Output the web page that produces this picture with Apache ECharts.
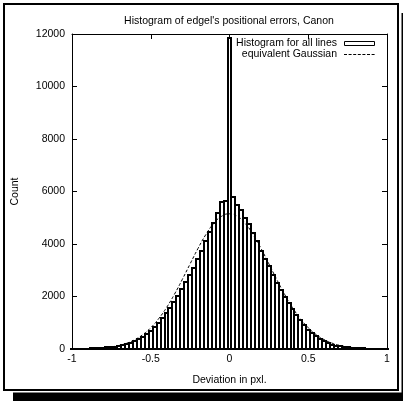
<!DOCTYPE html>
<html>
<head>
<meta charset="utf-8">
<script src="https://cdn.jsdelivr.net/npm/echarts@6/dist/echarts.min.js"></script>
<style>
  html, body { margin: 0; padding: 0; background: #fff; }
  #chart { width: 403px; height: 401px; }
</style>
</head>
<body>
<div id="chart"></div>
<script>
// Histogram bins (width 0.025 px), centres from -1 to 1
var binWidth = 0.025;
var binCenters = [
  -1.000, -0.975, -0.950, -0.925, -0.900, -0.875, -0.850, -0.825, -0.800, -0.775,
  -0.750, -0.725, -0.700, -0.675, -0.650, -0.625, -0.600, -0.575, -0.550, -0.525,
  -0.500, -0.475, -0.450, -0.425, -0.400, -0.375, -0.350, -0.325, -0.300, -0.275,
  -0.250, -0.225, -0.200, -0.175, -0.150, -0.125, -0.100, -0.075, -0.050, -0.025,
   0.000,
   0.025,  0.050,  0.075,  0.100,  0.125,  0.150,  0.175,  0.200,  0.225,  0.250,
   0.275,  0.300,  0.325,  0.350,  0.375,  0.400,  0.425,  0.450,  0.475,  0.500,
   0.525,  0.550,  0.575,  0.600,  0.625,  0.650,  0.675,  0.700,  0.725,  0.750,
   0.775,  0.800,  0.825,  0.850,  0.875,  0.900,  0.925,  0.950,  0.975,  1.000
];
var binCounts = [
     8,   10,   12,   15,   18,   22,   28,   35,   45,   58,
    72,   90,  115,  145,  185,  240,  300,  380,  470,  580,
   700,  840, 1000, 1170, 1360, 1570, 1790, 2030, 2280, 2550,
  2820, 3100, 3420, 3750, 4100, 4450, 4800, 5200, 5600, 5650,
  11850,
  5800, 5500, 5300, 5000, 4750, 4420, 4100, 3750, 3430, 3150,
  2830, 2520, 2260, 2000, 1750, 1520, 1300, 1110,  920,  740,
   600,  480,  375,  295,  225,  170,  130,  100,   78,   60,
    47,   37,   29,   23,   18,   14,   11,    9,    7,    5
];

// Equivalent Gaussian, sampled every 0.05 px
var gaussX = [
  -1.00, -0.95, -0.90, -0.85, -0.80, -0.75, -0.70, -0.65, -0.60, -0.55,
  -0.50, -0.45, -0.40, -0.35, -0.30, -0.25, -0.20, -0.15, -0.10, -0.05,
   0.00,
   0.05,  0.10,  0.15,  0.20,  0.25,  0.30,  0.35,  0.40,  0.45,  0.50,
   0.55,  0.60,  0.65,  0.70,  0.75,  0.80,  0.85,  0.90,  0.95,  1.00
];
var gaussY = [
     3,    6,   13,   25,   45,   80,  137,  226,  359,  550,
   811, 1152, 1577, 2081, 2647, 3243, 3831, 4360, 4783, 5056,
  5150,
  5056, 4783, 4360, 3831, 3243, 2647, 2081, 1577, 1152,  811,
   550,  359,  226,  137,   80,   45,   25,   13,    6,    3
];

var legendNames = ['Histogram for all lines', 'equivalent Gaussian'];

var FONT = '"Liberation Sans", Arial, Helvetica, sans-serif';
var FS = 10.5;

var histData = binCenters.map(function (c, i) { return [c, binCounts[i]]; });
var gaussData = gaussX.map(function (x, i) { return [x, gaussY[i]]; });

function axisLine() { return { show: true, onZero: false, lineStyle: { color: '#000', width: 1 } }; }
function axisTick() { return { show: true, inside: true, length: 5, lineStyle: { color: '#000', width: 1 } }; }

var chart = echarts.init(document.getElementById('chart'), null, { renderer: 'canvas' });

chart.setOption({
  animation: false,
  backgroundColor: '#fff',
  graphic: [
    // drop shadow behind the page frame
    { type: 'rect', z: -10, silent: true,
      shape: { x: 13, y: 13, width: 390, height: 388 },
      style: { fill: '#000' } },
    { type: 'rect', z: -9, silent: true,
      shape: { x: 0, y: 0, width: 401.5, height: 392.5 },
      style: { fill: '#fff' } },
    // page frame
    { type: 'rect', z: -8, silent: true,
      shape: { x: 4, y: 4, width: 394, height: 386 },
      style: { fill: '#fff', stroke: '#000', lineWidth: 2 } },
    // key, upper right of the plot
    { type: 'text', z: 10, silent: true, x: 337, y: 43.5,
      style: { text: legendNames[0], align: 'right', verticalAlign: 'middle',
        font: FS + 'px ' + FONT, fill: '#000' } },
    { type: 'rect', z: 10, silent: true,
      shape: { x: 344.5, y: 41.5, width: 30, height: 4 },
      style: { fill: '#fff', stroke: '#000', lineWidth: 1 } },
    { type: 'text', z: 10, silent: true, x: 337, y: 54.5,
      style: { text: legendNames[1], align: 'right', verticalAlign: 'middle',
        font: FS + 'px ' + FONT, fill: '#000' } },
    { type: 'line', z: 10, silent: true,
      shape: { x1: 344, y1: 54.5, x2: 375, y2: 54.5 },
      style: { stroke: '#000', lineWidth: 1, lineDash: [3, 1.6] } }
  ],
  title: {
    text: "Histogram of edgel's positional errors, Canon",
    left: 224, top: 11, textAlign: 'center',
    textStyle: { fontFamily: FONT, fontSize: FS, fontWeight: 'normal', color: '#000' }
  },
  grid: { left: 72, right: 16, top: 34, bottom: 52, containLabel: false },
  xAxis: [
    {
      type: 'value', min: -1, max: 1, interval: 0.5,
      name: 'Deviation in pxl.', nameLocation: 'middle', nameGap: 26,
      nameTextStyle: { fontFamily: FONT, fontSize: FS, color: '#000' },
      axisLine: axisLine(), axisTick: axisTick(), splitLine: { show: false },
      axisLabel: { fontFamily: FONT, fontSize: FS, color: '#000', margin: 5,
        formatter: function (v) { return String(v); } }
    },
    {
      type: 'value', position: 'top', min: -1, max: 1, interval: 0.5,
      axisLine: axisLine(), axisTick: axisTick(), splitLine: { show: false },
      axisLabel: { show: false }
    }
  ],
  yAxis: [
    {
      type: 'value', min: 0, max: 12000, interval: 2000,
      name: 'Count', nameLocation: 'middle', nameGap: 51, nameRotate: 90,
      nameTextStyle: { fontFamily: FONT, fontSize: FS, color: '#000' },
      axisLine: axisLine(), axisTick: axisTick(), splitLine: { show: false },
      axisLabel: { fontFamily: FONT, fontSize: FS, color: '#000', margin: 7,
        formatter: function (v) { return String(v); } }
    },
    {
      type: 'value', position: 'right', min: 0, max: 12000, interval: 2000,
      axisLine: axisLine(), axisTick: axisTick(), splitLine: { show: false },
      axisLabel: { show: false }
    }
  ],
  series: [
    {
      name: legendNames[0],
      type: 'custom',
      xAxisIndex: 0, yAxisIndex: 0,
      z: 2,
      data: histData,
      encode: { x: 0, y: 1 },
      renderItem: function (params, api) {
        var c = api.value(0), v = api.value(1);
        var p0 = api.coord([c - binWidth / 2, v]);
        var p1 = api.coord([c + binWidth / 2, 0]);
        var x0 = Math.round(p0[0]), x1 = Math.round(p1[0]);
        var y0 = Math.round(p0[1]), y1 = Math.round(p1[1]);
        return {
          type: 'rect',
          shape: { x: x0, y: y0, width: x1 - x0, height: y1 - y0 },
          style: { fill: '#fff', stroke: '#000', lineWidth: 2 }
        };
      }
    },
    {
      name: legendNames[1],
      type: 'line',
      xAxisIndex: 0, yAxisIndex: 0,
      z: 3,
      data: gaussData,
      smooth: true,
      symbol: 'none',
      lineStyle: { color: '#000', width: 1, type: [3, 2] }
    }
  ]
});
</script>
</body>
</html>
